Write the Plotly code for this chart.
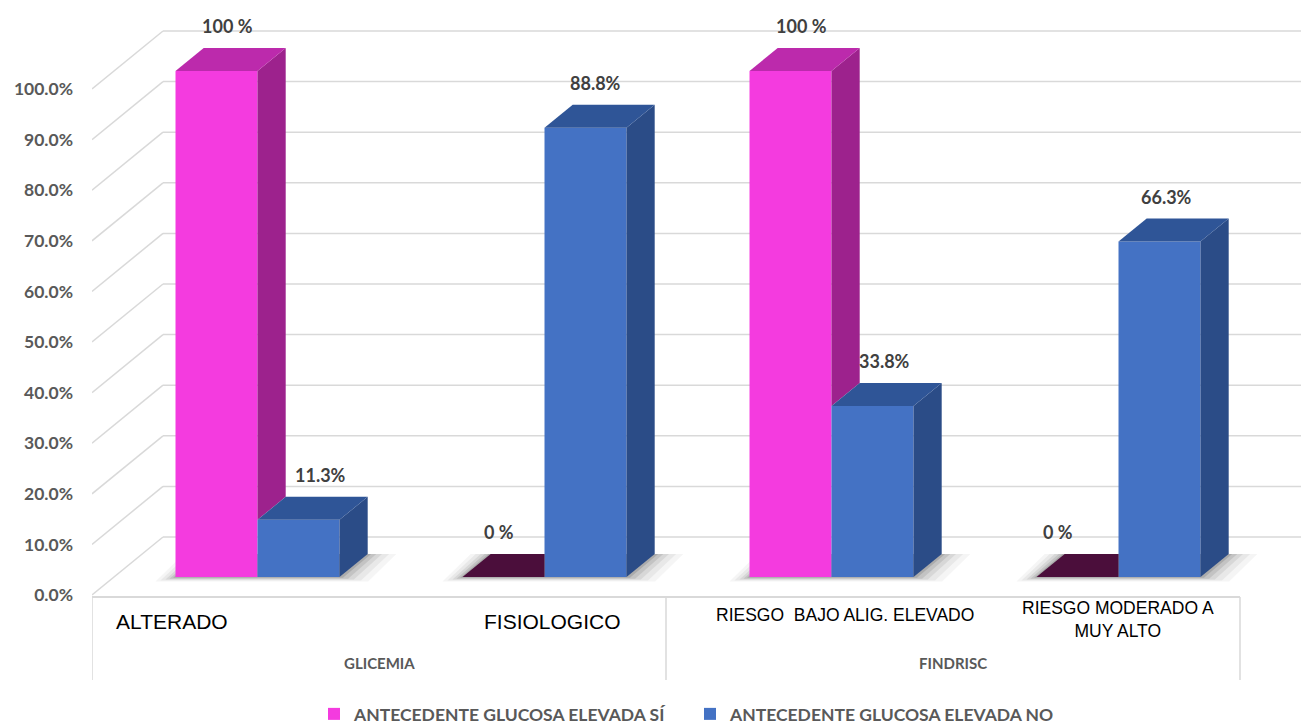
import plotly.graph_objects as go

# ---- data ----
categories = ["ALTERADO", "FISIOLOGICO", "RIESGO  BAJO ALIG. ELEVADO", "RIESGO MODERADO A<br>MUY ALTO"]
groups = ["GLICEMIA", "FINDRISC"]
series_names = ["ANTECEDENTE GLUCOSA ELEVADA SÍ", "ANTECEDENTE GLUCOSA ELEVADA NO"]
si_values = [100, 0, 100, 0]
no_values = [11.3, 88.8, 33.8, 66.3]
y_ticks = [0, 10, 20, 30, 40, 50, 60, 70, 80, 90, 100]

# ---- canvas / projection settings ----
FIG_W, FIG_H = 1301, 725
M_LEFT = 92
PX_PER_CAT = 287.0
PX_PER_PCT = 5.06
ZERO_PX = 595.0                      # screen row of 0 % on the front floor edge
X_MIN = -0.5
X_MAX = len(categories) - 0.5 + (FIG_W - M_LEFT - PX_PER_CAT * len(categories)) / PX_PER_CAT
Y_MIN = -(FIG_H - ZERO_PX) / PX_PER_PCT
Y_MAX = ZERO_PX / PX_PER_PCT

DX_FULL = 71.0 / PX_PER_CAT          # horizontal shift from front floor edge to back wall
DY_FULL = 58.0 / PX_PER_PCT          # vertical shift from front floor edge to back wall
D_FRONT, D_BACK = 0.31, 0.707        # depth of bar front / back faces
BW = 82.0 / PX_PER_CAT               # bar width

PINK = dict(front="#F43BDF", top="#BC2AAC", side="#9D228D", flat="#4B0E3B")
BLUE = dict(front="#4472C4", top="#2F5597", side="#2B4C87", flat="#1F3864")
GRID = "#D9D9D9"
TEXT_GRAY = "#595959"
LABEL_GRAY = "#404040"


def proj(x, v, d):
    """Project a point (category x, value v, depth d) onto the 2-D axes."""
    return x + d * DX_FULL, v + d * DY_FULL


def px_to_val(py):
    return (ZERO_PX - py) / PX_PER_PCT


def poly_path(points):
    return "M " + " L ".join(f"{x},{y}" for x, y in points) + " Z"


fig = go.Figure()

# front faces of the bars
bar_x = [i + D_FRONT * DX_FULL for i in range(len(categories))]
bar_base = D_FRONT * DY_FULL
fig.add_trace(go.Bar(
    x=bar_x, y=si_values, base=bar_base, width=BW, offset=-BW,
    marker=dict(color=PINK["front"], line=dict(width=0)),
    name=series_names[0], hoverinfo="skip"))
fig.add_trace(go.Bar(
    x=bar_x, y=no_values, base=bar_base, width=BW, offset=0,
    marker=dict(color=BLUE["front"], line=dict(width=0)),
    name=series_names[1], hoverinfo="skip"))

dxb = (D_BACK - D_FRONT) * DX_FULL
dyb = (D_BACK - D_FRONT) * DY_FULL


def add_face(points, color):
    xs = [p[0] for p in points] + [points[0][0]]
    ys = [p[1] for p in points] + [points[0][1]]
    fig.add_trace(go.Scatter(x=xs, y=ys, mode="lines", fill="toself", fillcolor=color,
                             line=dict(width=0, color=color), hoverinfo="skip",
                             showlegend=False))


# side and top faces, left bar first so the right bar overlaps it
for i, (p, b) in enumerate(zip(si_values, no_values)):
    fx, fy = bar_x[i], bar_base
    # pink bar (left of the pair)
    left, right = fx - BW, fx
    top_col = PINK["top"] if p > 0 else PINK["flat"]
    if p > b:
        add_face([(right, fy + b), (right, fy + p), (right + dxb, fy + p + dyb),
                  (right + dxb, fy + b + dyb)], PINK["side"])
        add_face([(left, fy + p), (right, fy + p), (right + dxb, fy + p + dyb),
                  (left + dxb, fy + p + dyb)], top_col)
    else:
        add_face([(left, fy + p), (right, fy + p), (right, fy + p + dyb),
                  (left + dxb, fy + p + dyb)], top_col)
    # blue bar (right of the pair)
    left, right = fx, fx + BW
    add_face([(right, fy), (right, fy + b), (right + dxb, fy + b + dyb),
              (right + dxb, fy + dyb)], BLUE["side"])
    add_face([(left, fy + b), (right, fy + b), (right + dxb, fy + b + dyb),
              (left + dxb, fy + b + dyb)], BLUE["top"] if b > 0 else BLUE["flat"])

shapes = []
# left wall diagonals and back wall gridlines
for v in y_ticks:
    x0, y0 = proj(X_MIN, v, 0)
    x1, y1 = proj(X_MIN, v, 1)
    shapes.append(dict(type="line", x0=x0, y0=y0, x1=x1, y1=y1, layer="below",
                       line=dict(color=GRID, width=1.5)))
    shapes.append(dict(type="line", x0=x1, y0=y1, x1=X_MAX, y1=y1, layer="below",
                       line=dict(color=GRID, width=1.5)))

# category frame below the floor
n = len(categories)
frame_bottom = px_to_val(680)
shapes.append(dict(type="line", x0=X_MIN, y0=-0.4, x1=n - 0.5, y1=-0.4, layer="below",
                   line=dict(color=GRID, width=2)))
for xb in [X_MIN, X_MIN + n / 2, n - 0.5]:
    shapes.append(dict(type="line", x0=xb, y0=-0.4, x1=xb, y1=frame_bottom, layer="below",
                       line=dict(color=GRID, width=1.5)))

# soft floor shadow around each bar pair (stacked translucent layers)
for i in range(n):
    fx = bar_x[i]
    for mx, md, op in [(0.10, 0.22, 0.04), (0.075, 0.17, 0.05), (0.05, 0.12, 0.07),
                       (0.03, 0.08, 0.09), (0.012, 0.04, 0.12)]:
        x_l = fx - BW - mx * 0.7
        x_r = fx + BW + dxb + mx
        pts = [(x_l, bar_base - md * DY_FULL * 0.35),
               (x_r - dxb, bar_base - md * DY_FULL * 0.35),
               (x_r, bar_base + dyb),
               (x_l + dxb, bar_base + dyb)]
        shapes.append(dict(type="path", path=poly_path(pts), layer="below",
                           fillcolor=f"rgba(0,0,0,{op})", line=dict(width=0)))

annotations = []
# value labels above the bar tops
si_labels = [f"{v:g} %" for v in si_values]
no_labels = [f"{v:.1f}%" for v in no_values]
si_xshift = [-3, -19, -3, -34]
no_xshift = [8, -4, -2, -7]
d_mid = (D_FRONT + D_BACK) / 2
for i in range(n):
    for vals, texts, off, xs in [(si_values, si_labels, -BW / 2, si_xshift),
                                 (no_values, no_labels, BW / 2, no_xshift)]:
        lx, _ = proj(i + off, 0, d_mid)
        _, ly = proj(0, vals[i], D_BACK)
        annotations.append(dict(x=lx, y=ly, text=texts[i], showarrow=False, yshift=22,
                                xshift=xs[i], yanchor="middle",
                                font=dict(family="Lato", size=18, color=LABEL_GRAY,
                                          weight="bold")))

# category labels
cat_xshift = [-64, 30, 35, 21]
cat_y = [621, 621, 615, 619]
cat_size = [21, 21, 17.5, 17.5]
for i, c in enumerate(categories):
    annotations.append(dict(x=i, y=px_to_val(cat_y[i]), text=c, showarrow=False,
                            xshift=cat_xshift[i], yanchor="middle",
                            font=dict(family="Liberation Sans, Arial", size=cat_size[i],
                                      color="#000000")))
# group labels
for g_i, g in enumerate(groups):
    annotations.append(dict(x=X_MIN + n / 4 + g_i * n / 2, y=px_to_val(663), text=g,
                            showarrow=False, yanchor="middle",
                            font=dict(family="Lato", size=15, color=TEXT_GRAY,
                                      weight="bold")))

plot_w = FIG_W - M_LEFT
fig.update_layout(
    width=FIG_W, height=FIG_H,
    margin=dict(l=M_LEFT, r=0, t=0, b=0, autoexpand=False),
    paper_bgcolor="white", plot_bgcolor="white",
    barmode="overlay",
    shapes=shapes, annotations=annotations,
    xaxis=dict(range=[X_MIN, X_MAX], visible=False, fixedrange=True),
    yaxis=dict(range=[Y_MIN, Y_MAX], tickvals=y_ticks,
               ticktext=[f"{v:.1f}%" for v in y_ticks],
               showgrid=False, zeroline=False, showline=False, ticks="",
               ticklabelstandoff=18, fixedrange=True, automargin=False,
               tickfont=dict(family="Lato", size=17.5, color=TEXT_GRAY, weight="bold")),
    legend=dict(orientation="h", xref="paper", yref="paper",
                x=(690 - M_LEFT) / plot_w, y=(FIG_H - 714) / FIG_H,
                xanchor="center", yanchor="middle", entrywidth=331,
                font=dict(family="Lato", size=17.5, color=TEXT_GRAY, weight="bold"),
                itemclick=False, itemdoubleclick=False, bgcolor="rgba(0,0,0,0)"),
    showlegend=True,
)

fig.write_html("out.html")
